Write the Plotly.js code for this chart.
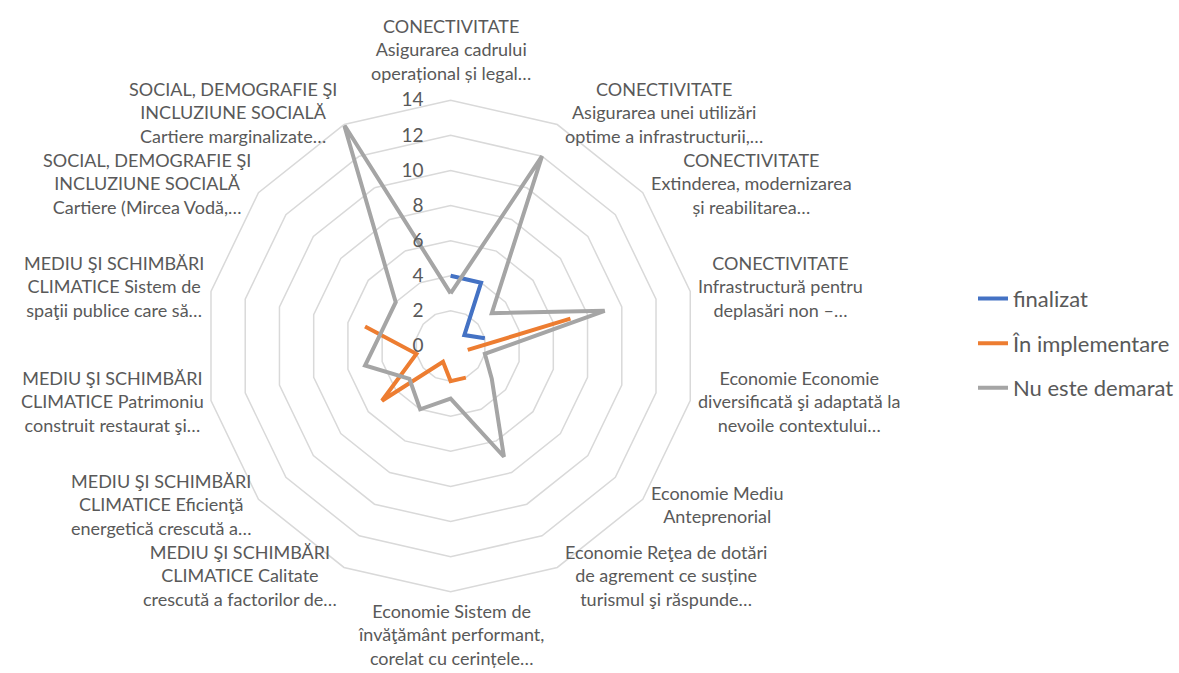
<!DOCTYPE html>
<html>
<head>
<meta charset="utf-8">
<script src="https://cdn.plot.ly/plotly-3.0.1.min.js"></script>
<style>
  html, body { margin: 0; padding: 0; background: #fff; }
  #chart { width: 1179px; height: 673px; }
</style>
</head>
<body>
<div id="chart"></div>
<script>
// categorii (axa unghiulara), in ordinea din grafic
const categorii = [
    'CONECTIVITATE<br>Asigurarea cadrului<br>operațional și legal…',
    'CONECTIVITATE<br>Asigurarea unei utilizări<br>optime a infrastructurii,…',
    'CONECTIVITATE<br>Extinderea, modernizarea<br>și reabilitarea…',
    'CONECTIVITATE<br>Infrastructură pentru<br>deplasări non –…',
    'Economie Economie<br>diversificată şi adaptată la<br>nevoile contextului…',
    'Economie Mediu<br>Anteprenorial',
    'Economie Reţea de dotări<br>de agrement ce susține<br>turismul şi răspunde…',
    'Economie Sistem de<br>învăţământ performant,<br>corelat cu cerințele…',
    'MEDIU ŞI SCHIMBĂRI<br>CLIMATICE Calitate<br>crescută a factorilor de…',
    'MEDIU ŞI SCHIMBĂRI<br>CLIMATICE Eficienţă<br>energetică crescută a…',
    'MEDIU ŞI SCHIMBĂRI<br>CLIMATICE Patrimoniu<br>construit restaurat şi…',
    'MEDIU ŞI SCHIMBĂRI<br>CLIMATICE Sistem de<br>spaţii publice care să…',
    'SOCIAL, DEMOGRAFIE ŞI<br>INCLUZIUNE SOCIALĂ<br>Cartiere (Mircea Vodă,…',
    'SOCIAL, DEMOGRAFIE ŞI<br>INCLUZIUNE SOCIALĂ<br>Cartiere marginalizate…'
];

// valori pe stadiu (null = celula goala, linia se intrerupe)
const finalizat       = [4, 4, 1, 2, null, null, null, null, null, null, null, null, null, null];
const inImplementare  = [null, null, null, 7, 1, null, 2, 2, 1, 5, 2, 5, null, null];
const nuEsteDemarat   = [3, 12, 3, 9, 2, 3, 7, 3, 4, 3, 5, 4, 4, 14];

const valoriRadiale = [0, 2, 4, 6, 8, 10, 12, 14];

const C = { albastru: '#4472C4', portocaliu: '#ED7D31', gri: '#A5A5A5', grila: '#D9D9D9', text: '#595959' };

const W = 1179, H = 673;
// geometria radarului (pixeli)
const CX = 451, CY = 346, R = 246;

// inchide poligonul doar unde ultima si prima valoare exista
const inchide = (arr) => (arr[0] != null && arr[arr.length - 1] != null) ? [...arr, arr[0]] : arr;
const thetaPt = (arr) => (arr[0] != null && arr[arr.length - 1] != null) ? [...categorii, categorii[0]] : categorii;

const serie = (nume, vals, culoare, grup) => ({
    type: 'scatterpolar',
    mode: 'lines',
    name: nume,
    r: inchide(vals),
    theta: thetaPt(vals),
    connectgaps: false,
    line: { color: culoare, width: 4 },
    legendgroup: grup,
    hovertemplate: '%{r}<extra>' + nume + '</extra>',
});

const date = [
    serie('finalizat', finalizat, C.albastru, 'a'),
    serie('În implementare', inImplementare, C.portocaliu, 'b'),
    serie('Nu este demarat', nuEsteDemarat, C.gri, 'c'),
];

// etichete categorii, centrate ca in Excel, asezate in jurul varfurilor
const etichete = categorii.map((txt, i) => {
    const a = i * 2 * Math.PI / categorii.length;
    const s = Math.sin(a), c = Math.cos(a);
    let px = CX + R * s, py = CY - R * c;
    let xanchor = 'center', yanchor = 'middle';
    if (Math.abs(s) < 0.1) {
        if (c > 0) { yanchor = 'bottom'; py -= 14; } else { yanchor = 'top'; py += 6; }
    } else {
        xanchor = s > 0 ? 'left' : 'right';
        px += s > 0 ? 6 : -5;
        py += -11 * c - 2;
    }
    return {
        text: txt, showarrow: false, align: 'center',
        xref: 'paper', yref: 'paper',
        x: px / W, y: 1 - py / H,
        xanchor, yanchor,
        font: { size: 18, color: C.text },
    };
});

const layout = {
    width: W,
    height: H,
    margin: { t: 0, r: 0, b: 0, l: 0 },
    paper_bgcolor: '#fff',
    font: { family: 'Lato, "Open Sans", sans-serif', size: 18, color: C.text },
    showlegend: true,
    legend: {
        x: 0.826, xanchor: 'left',
        y: 0.49, yanchor: 'middle',
        font: { size: 22, color: C.text },
        tracegroupgap: 13,
        bgcolor: 'rgba(0,0,0,0)',
    },
    annotations: etichete,
    polar: {
        domain: { x: [(CX - R) / W, (CX + R) / W], y: [1 - (CY + R) / H, 1 - (CY - R) / H] },
        gridshape: 'linear',
        bgcolor: '#fff',
        angularaxis: {
            type: 'category',
            categoryarray: categorii,
            rotation: 90,
            direction: 'clockwise',
            showgrid: false,
            showline: true,
            linecolor: C.grila,
            linewidth: 1.5,
            ticks: '',
            showticklabels: false,
        },
        radialaxis: {
            range: [0, 14],
            tickvals: valoriRadiale,
            angle: 90,
            tickangle: 90,
            side: 'counterclockwise',
            showline: false,
            ticks: 'outside',
            ticklen: 20,
            tickcolor: 'rgba(0,0,0,0)',
            gridcolor: C.grila,
            gridwidth: 1.5,
            tickfont: { size: 19, color: C.text },
        },
    },
};

Plotly.newPlot('chart', date, layout, { displayModeBar: false, staticPlot: true });
</script>
</body>
</html>
